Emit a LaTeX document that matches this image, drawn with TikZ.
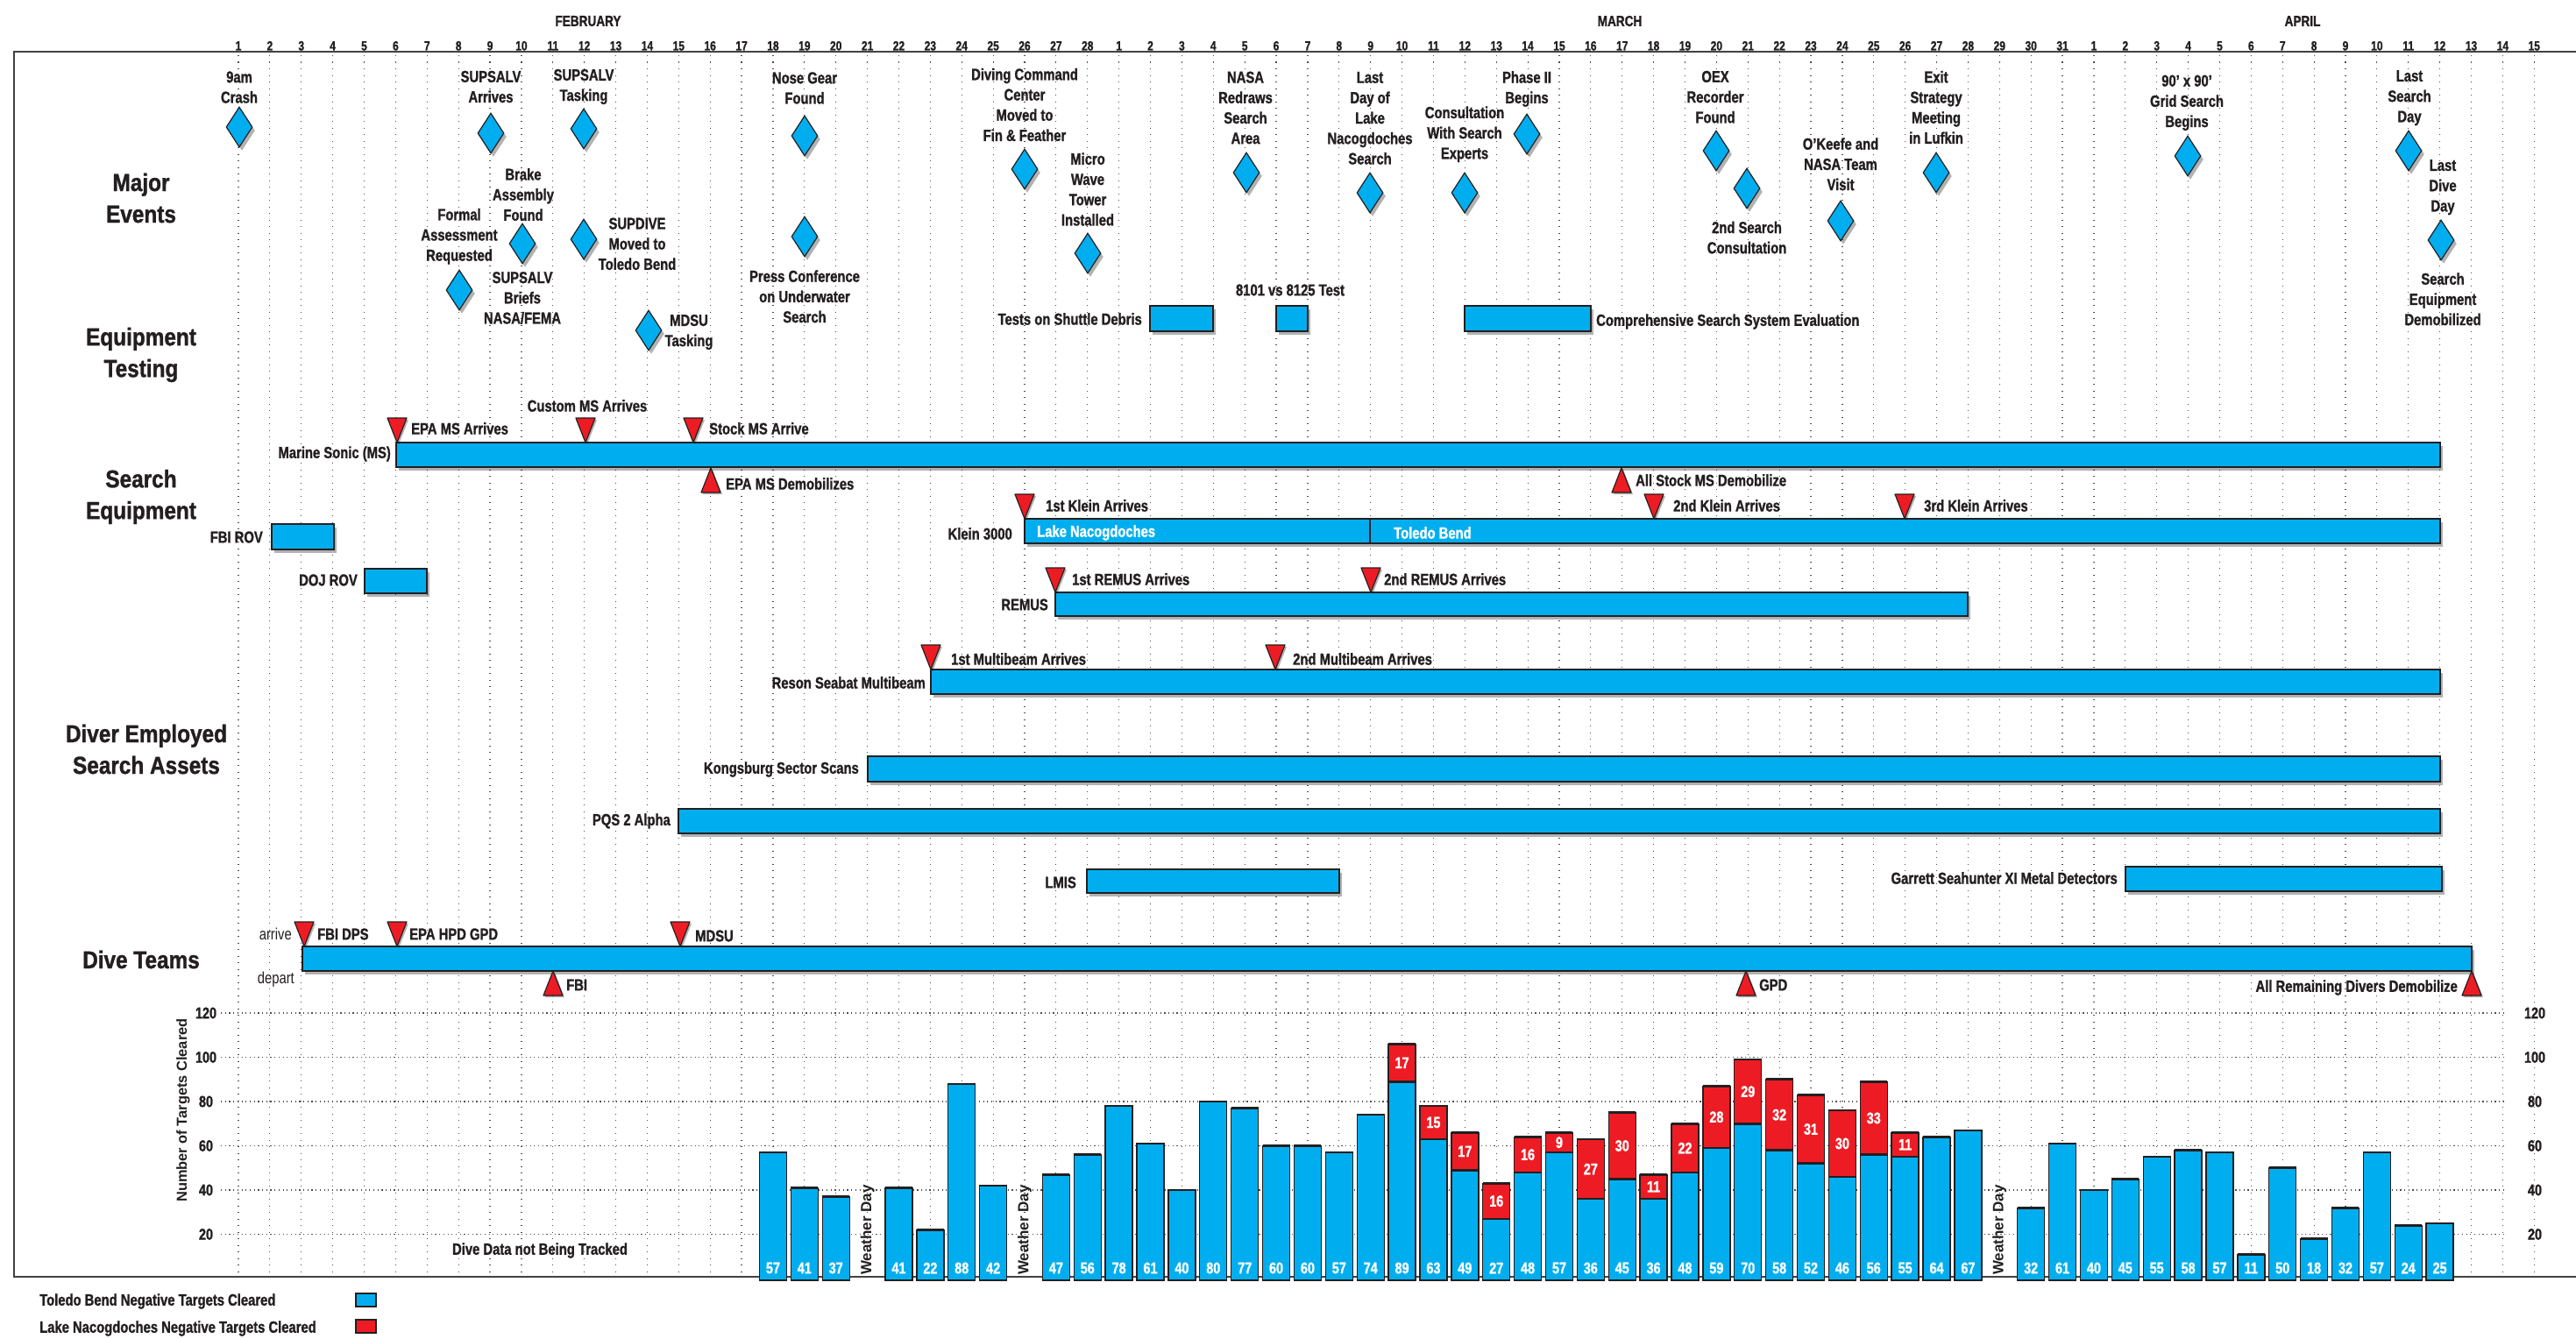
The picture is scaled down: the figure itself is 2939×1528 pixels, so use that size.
\documentclass[tikz,border=0pt]{standalone}
\usepackage{fontspec}
\setmainfont{Liberation Sans}
\newfontfamily\cond{Liberation Sans}[FakeStretch=0.8,BoldFeatures={FakeBold=1.2}]
\newfontfamily\ttlf{Liberation Sans}[FakeStretch=0.87,BoldFeatures={FakeBold=1.2}]
\usetikzlibrary{shapes.geometric,shadows}
\definecolor{cy}{HTML}{00AEEF}
\definecolor{rd}{HTML}{ED1C24}
\definecolor{ink}{HTML}{231F20}
\begin{document}
\begin{tikzpicture}[x=1pt,y=-1pt,
 shd/.style={drop shadow={shadow xshift=3pt,shadow yshift=-4pt,fill=black,opacity=0.3}},
 gbar/.style={fill=cy,draw=ink,line width=1.6pt,shd},
 evd/.style={diamond,fill=cy,draw=ink,line width=1.2pt,minimum width=30pt,minimum height=46pt,inner sep=0pt,shd},
 mk/.style={fill=rd,draw=ink,line width=1.2pt,line join=round,drop shadow={shadow xshift=2pt,shadow yshift=-2pt,fill=black,opacity=0.3}},
 lab/.style={font={\fontsize{18.5}{23.2}\cond\bfseries},text=ink,align=center,inner sep=0pt},
 wlab/.style={lab,text=white},
 ttl/.style={font={\fontsize{28}{36}\ttlf\bfseries},text=ink,align=center,inner sep=0pt},
 day/.style={font={\fontsize{15}{18}\cond\bfseries},text=ink,inner sep=0pt,anchor=base},
 mon/.style={font={\fontsize{17}{20}\cond\bfseries},text=ink,inner sep=0pt},
 ax/.style={font={\fontsize{18}{20}\cond\bfseries},text=ink,inner sep=0pt},
 num/.style={font={\fontsize{18}{20}\cond\bfseries},text=white,inner sep=0pt},
 wide/.style={font={\fontsize{16.4}{20}\bfseries},text=ink,inner sep=0pt,rotate=90},
 bb/.style={fill=cy,draw=ink,line width=1.4pt},
 rb/.style={fill=rd,draw=ink,line width=1.4pt},
 topedge/.style={ink,line width=2.6pt},
 vgrid/.style={ink!80,line width=1.2pt,dash pattern=on 1.2pt off 6.3pt},
 hgrid/.style={ink!80,line width=1.2pt,dash pattern=on 1.2pt off 3.5pt},
 dmark/.pic={\path[mk] (-11,-28) -- (11,-28) -- (0,0) -- cycle;},
 umark/.pic={\path[mk] (-11,28) -- (11,28) -- (0,0) -- cycle;},
]
\fill[white] (0,0) rectangle (2939,1528);
\useasboundingbox (0,0) rectangle (2939,1528);

% grid
\foreach \ii in {0,...,73} \draw[vgrid] ({272+35.88*\ii},63) -- ({272+35.88*\ii},1456);
\foreach \v in {20,40,...,120} \draw[hgrid] (252,{1459-2.525*\v}) -- (2858,{1459-2.525*\v});

% frame
\draw[ink!85,line width=1.4pt] (16,59) -- (16,1457);
\draw[ink!85,line width=2.4pt] (15,59) -- (2939,59);
\draw[ink!85,line width=2.4pt] (15,1457) -- (2939,1457);

% axis labels
\foreach \d in {1,...,28} \node[day] (fd\d) at ({272+35.88*(\d-1)},57.5) {\d};
\foreach \d in {1,...,31} \node[day] (md\d) at ({272+35.88*(\d+27)},57.5) {\d};
\foreach \d in {1,...,15} \node[day] (ad\d) at ({272+35.88*(\d+58)},57.5) {\d};
\node[mon] (mFeb) at (671,24) {FEBRUARY};
\node[mon] (mMar) at (1848,24) {MARCH};
\node[mon] (mApr) at (2627,24) {APRIL};

% section titles
\node[ttl] (tMaj) at (161,226) {Major\\Events};
\node[ttl] (tEq) at (161,405) {Equipment\\Testing};
\node[ttl] (tSe) at (161,567) {Search\\Equipment};
\node[ttl] (tDi) at (167,855) {Diver Employed\\Search Assets};
\node[ttl] (tDt) at (161,1095) {Dive Teams};

% major events
\node[evd] (e1) at (273,145) {};  \node[lab] (t1) at (273,99.5) {9am\\Crash};
\node[evd] (e2) at (560,152) {};  \node[lab] (t2) at (560,99) {SUPSALV\\Arrives};
\node[evd] (e3) at (666,147) {};  \node[lab] (t3) at (666,99) {SUPSALV\\Tasking};
\node[evd] (e4) at (918,155) {};  \node[lab] (t4) at (918,100.5) {Nose Gear\\Found};
\node[evd] (e5) at (596,278) {};  \node[lab] (t5) at (597,222) {Brake\\Assembly\\Found};
\node[evd] (e6) at (524,331) {};  \node[lab] (t6) at (524,269.7) {Formal\\Assessment\\Requested};
\node[evd] (e7) at (666,273) {};  \node[lab] (t7) at (727,278.3) {SUPDIVE\\Moved to\\Toledo Bend};
\node[lab] (t8) at (596,340) {SUPSALV\\Briefs\\NASA/FEMA};
\node[evd] (e9) at (918,270) {};  \node[lab] (t9) at (918,338.3) {Press Conference\\on Underwater\\Search};
\node[evd] (e10) at (740,377) {}; \node[lab] (t10) at (786,379) {MDSU\\Tasking};
\node[evd] (e11) at (1169,193) {}; \node[lab] (t11) at (1169,119.5) {Diving Command\\Center\\Moved to\\Fin \& Feather};
\node[evd] (e12) at (1241,289) {}; \node[lab] (t12) at (1241,216) {Micro\\Wave\\Tower\\Installed};
\node[evd] (e13) at (1422,197) {}; \node[lab] (t13) at (1421,123) {NASA\\Redraws\\Search\\Area};
\node[evd] (e14) at (1563,220) {}; \node[lab] (t14) at (1563,134.8) {Last\\Day of\\Lake\\Nacogdoches\\Search};
\node[evd] (e15) at (1671,220) {}; \node[lab] (t15) at (1671,153.3) {Consultation\\With Search\\Experts};
\node[evd] (e16) at (1742,153) {}; \node[lab] (t16) at (1742,101.5) {Phase II\\Begins};
\node[evd] (e17) at (1958,172) {}; \node[lab] (t17) at (1957,110.7) {OEX\\Recorder\\Found};
\node[evd] (e18) at (1993,215) {}; \node[lab] (t18) at (1993,271) {2nd Search\\Consultation};
\node[evd] (e19) at (2100,252) {}; \node[lab] (t19) at (2100,187.3) {O’Keefe and\\NASA Team\\Visit};
\node[evd] (e20) at (2209,197) {}; \node[lab] (t20) at (2209,122.5) {Exit\\Strategy\\Meeting\\in Lufkin};
\node[evd] (e21) at (2496,178) {}; \node[lab] (t21) at (2495,117.3) {90’ x 90’\\Grid Search\\Begins};
\node[evd] (e22) at (2748,172) {}; \node[lab] (t22) at (2749,111.7) {Last\\Search\\Day};
\node[evd] (e23) at (2785,274) {}; \node[lab] (t23) at (2787,213.7) {Last\\Dive\\Day};
\node[lab] (t24) at (2787,341.3) {Search\\Equipment\\Demobilized};

% equipment testing
\path[gbar] (1312,349) rectangle (1384,378);
\path[gbar] (1456,349) rectangle (1492,378);
\path[gbar] (1671,349) rectangle (1815,378);
\node[lab,anchor=east] (q1) at (1303,364) {Tests on Shuttle Debris};
\node[lab] (q2) at (1472,331) {8101 vs 8125 Test};
\node[lab,anchor=west] (q3) at (1821,367) {Comprehensive Search System Evaluation};

% search equipment
\path[gbar] (452,505) rectangle (2784,533);
\node[lab,anchor=east] (s1) at (446,518) {Marine Sonic (MS)};
\pic at (453,505) {dmark};  \node[lab,anchor=west] (m1) at (469,489) {EPA MS Arrives};
\pic at (668,505) {dmark};  \node[lab] (m2) at (670,463) {Custom MS Arrives};
\pic at (791,505) {dmark};  \node[lab,anchor=west] (m3) at (809,489) {Stock MS Arrive};
\pic at (811,534) {umark};  \node[lab,anchor=west] (m4) at (828,552) {EPA MS Demobilizes};
\pic at (1850,534) {umark}; \node[lab,anchor=west] (m5) at (1866,548) {All Stock MS Demobilize};

\path[gbar] (310,598) rectangle (381,627);
\node[lab,anchor=east] (s2) at (300,613) {FBI ROV};
\path[gbar] (416,649) rectangle (487,677);
\node[lab,anchor=east] (s3) at (408,662) {DOJ ROV};

\path[gbar] (1169,592) rectangle (2784,620);
\draw[ink,line width=1.4pt] (1563,592) -- (1563,620);
\node[lab,anchor=east] (s4) at (1155,609) {Klein 3000};
\node[wlab,anchor=west] (s4a) at (1183,608) {Lake Nacogdoches};
\node[wlab,anchor=west] (s4b) at (1590,608) {Toledo Bend};
\pic at (1169,592) {dmark}; \node[lab,anchor=west] (m6) at (1193,577) {1st Klein Arrives};
\pic at (1887,592) {dmark}; \node[lab,anchor=west] (m7) at (1909,577) {2nd Klein Arrives};
\pic at (2173,592) {dmark}; \node[lab,anchor=west] (m8) at (2195,577) {3rd Klein Arrives};

\path[gbar] (1204,676) rectangle (2245,703);
\node[lab,anchor=east] (s5) at (1196,690) {REMUS};
\pic at (1204,676) {dmark}; \node[lab,anchor=west] (m9) at (1223,661) {1st REMUS Arrives};
\pic at (1564,676) {dmark}; \node[lab,anchor=west] (m10) at (1579,661) {2nd REMUS Arrives};

\path[gbar] (1062,764) rectangle (2784,792);
\node[lab,anchor=east] (s6) at (1056,779) {Reson Seabat Multibeam};
\pic at (1062,764) {dmark}; \node[lab,anchor=west] (m11) at (1085,752) {1st Multibeam Arrives};
\pic at (1455,764) {dmark}; \node[lab,anchor=west] (m12) at (1475,752) {2nd Multibeam Arrives};

% diver employed search assets
\path[gbar] (990,863) rectangle (2784,892);
\node[lab,anchor=east] (d1) at (980,878) {Kongsburg Sector Scans};
\path[gbar] (774,923) rectangle (2784,951);
\node[lab,anchor=east] (d2) at (765,937) {PQS 2 Alpha};
\path[gbar] (1240,992) rectangle (1528,1019);
\node[lab,anchor=east] (d3) at (1228,1007) {LMIS};
\path[gbar] (2425,989) rectangle (2786,1017);
\node[lab,anchor=east] (d4) at (2416,1002) {Garrett Seahunter XI Metal Detectors};

% dive teams
\path[gbar] (345,1080) rectangle (2820,1108);
\node[lab,anchor=east,font={\fontsize{18.5}{23.2}\cond}] (dt1) at (333,1066) {arrive};
\node[lab,anchor=east,font={\fontsize{18.5}{23.2}\cond}] (dt2) at (336,1118) {depart};
\pic at (347,1080) {dmark};  \node[lab,anchor=west] (m13) at (362,1066) {FBI DPS};
\pic at (453,1080) {dmark};  \node[lab,anchor=west] (m14) at (467,1066) {EPA HPD GPD};
\pic at (776,1080) {dmark};  \node[lab,anchor=west] (m15) at (793,1068) {MDSU};
\pic at (631,1108) {umark};  \node[lab,anchor=west] (m16) at (646,1124) {FBI};
\pic at (1992,1108) {umark}; \node[lab,anchor=west] (m17) at (2007,1124) {GPD};
\pic at (2820,1108) {umark}; \node[lab,anchor=east] (m18) at (2804,1127) {All Remaining Divers Demobilize};

% chart
\foreach \v in {20,40,...,120} {
  \node[ax] (yl\v) at (235,{1459-2.525*\v}) {\v};
  \node[ax] (yr\v) at (2892,{1459-2.525*\v}) {\v};
}
\node[wide] (ylab) at (209,1267) {Number of Targets Cleared};
\node[lab] (nodata) at (616,1427) {Dive Data not Being Tracked};
\foreach \ii in {20,25,56}
  \node[wide,font={\fontsize{17}{20}\bfseries},anchor=west] (w\ii) at ({272+35.88*\ii},1455) {Weather Day};

\foreach \ii/\bv/\rv in {17/57/0,18/41/0,19/37/0,21/41/0,22/22/0,23/88/0,24/42/0,26/47/0,27/56/0,28/78/0,29/61/0,30/40/0,31/80/0,32/77/0,33/60/0,34/60/0,35/57/0,36/74/0,37/89/17,38/63/15,39/49/17,40/27/16,41/48/16,42/57/9,43/36/27,44/45/30,45/36/11,46/48/22,47/59/28,48/70/29,49/58/32,50/52/31,51/46/30,52/56/33,53/55/11,54/64/0,55/67/0,57/32/0,58/61/0,59/40/0,60/45/0,61/55/0,62/58/0,63/57/0,64/11/0,65/50/0,66/18/0,67/32/0,68/57/0,69/24/0,70/25/0}{
  \pgfmathsetmacro{\xc}{272+35.88*\ii}
  \pgfmathsetmacro{\yb}{1459-2.525*\bv}
  \pgfmathsetmacro{\yr}{1459-2.525*(\bv+\rv)}
  \ifnum\rv>0
    \path[rb] (\xc-15.5,\yb) rectangle (\xc+15.5,\yr);
    \draw[topedge] (\xc-15.5,\yr) -- (\xc+15.5,\yr);
    \node[num] (r\ii) at (\xc,{(\yb+\yr)/2}) {\rv};
  \fi
  \path[bb] (\xc-15.5,1461) rectangle (\xc+15.5,\yb);
  \draw[topedge] (\xc-15.5,\yb) -- (\xc+15.5,\yb);
  \node[num] (b\ii) at (\xc,1447) {\bv};
}

% legend
\node[lab,anchor=west] (lg1) at (45,1485) {Toledo Bend Negative Targets Cleared};
\path[bb] (406,1476) rectangle (429,1491);
\node[lab,anchor=west] (lg2) at (45,1516) {Lake Nacogdoches Negative Targets Cleared};
\path[rb] (406,1506) rectangle (429,1521);
\end{tikzpicture}
\end{document}
